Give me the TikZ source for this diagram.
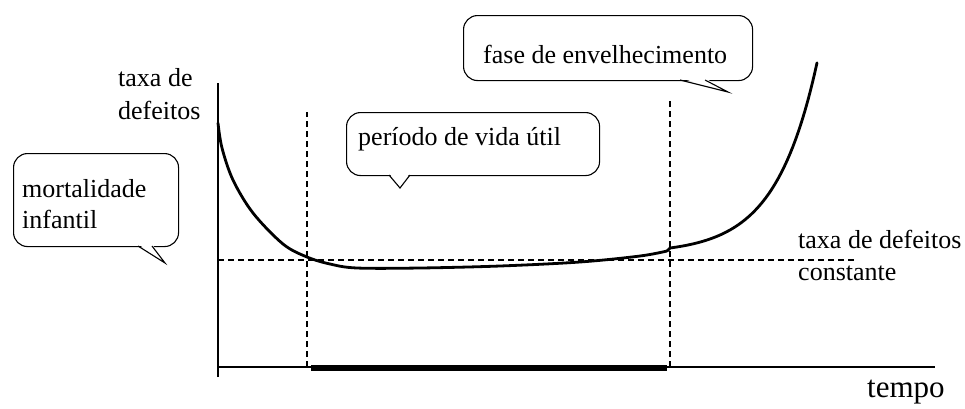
\documentclass[tikz,border=0pt]{standalone}
\usepackage{fontspec}
\setmainfont{Liberation Serif}
\begin{document}
\begin{tikzpicture}[x=1pt,y=-1pt,
  lbl/.style={anchor=base west, inner sep=0pt, font=\fontsize{26}{32}\selectfont},
  bubble/.style={draw, line width=1.1pt, rounded corners=14pt, fill=white, anchor=north west, inner sep=0pt},
  tailline/.style={line width=1.1pt, line join=miter},
  guide/.style={line width=1.2pt, dash pattern=on 6pt off 4pt},
  axisline/.style={line width=1.2pt},
  curveline/.style={line width=2.8pt, line cap=round, line join=round},
  lifebar/.style={line width=6pt}]
\useasboundingbox (0,0) rectangle (965,408);

% axes
\coordinate (Ybot) at (218,377);
\coordinate (Ytop) at (218,83);
\coordinate (Xo) at (218,367);
\coordinate (Xend) at (935,367);
\draw[axisline] (Ybot) -- (Ytop);
\draw[axisline] (Xo) -- (Xend);

% dashed guides
\coordinate (L1) at (307,112);
\coordinate (L0) at (307,367);
\coordinate (R1) at (670,100);
\coordinate (R0) at (670,367);
\coordinate (H0) at (218,260);
\coordinate (H1) at (856,260);
\draw[guide] (L0) -- (L1);
\draw[guide] (R0) -- (R1);
\draw[guide] (H0) -- (H1);

% useful life bar
\coordinate (B0) at (311,368);
\coordinate (B1) at (667,368);
\draw[lifebar] (B0) -- (B1);

% bathtub curve
\draw[curveline] plot[smooth, tension=0.55] coordinates {(218,123) (222,148) (233,180) (253,213) (283,244) (307,257) (330,264) (357,268) (420,268) (500,266) (580,262) (640,256) (667,251)};
\draw[curveline] (667,251) -- (670,248) -- plot[domain=670:817, samples=50] (\x, {248 - 5.6*(exp(0.024*(\x-670))-1)});

% callout bubbles
\node[bubble, minimum width=165pt, minimum height=93pt] (mb) at (13,153) {};
\fill[white] (138,244) -- (165,263) -- (152,244) -- cycle;
\draw[tailline] (138,246) -- (165,263) -- (152,246);

\node[bubble, minimum width=253pt, minimum height=63pt] (pb) at (346,112) {};
\fill[white] (389,173) -- (400,188) -- (410,173) -- cycle;
\draw[tailline] (389,175) -- (400,188) -- (410,175);

\node[bubble, minimum width=289pt, minimum height=65pt] (fb) at (463,15) {};
\fill[white] (680,78) -- (728,92) -- (705,78) -- cycle;
\draw[tailline] (680,80) -- (728,92) -- (705,80);

% texts
\node[lbl] (ylab1) at (118,86) {taxa de};
\node[lbl] (ylab2) at (118,119) {defeitos};
\node[lbl] (c1) at (798,248) {taxa de defeitos};
\node[lbl] (c2) at (798,280) {constante};
\node[lbl, font=\fontsize{31}{36}\selectfont] (tempo) at (867,397) {tempo};
\node[lbl] (m1) at (22,197) {mortalidade};
\node[lbl] (m2) at (22,228) {infantil};
\node[lbl] (p) at (358,145) {período de vida útil};
\node[lbl] (f) at (483,63) {fase de envelhecimento};
\end{tikzpicture}
\end{document}
